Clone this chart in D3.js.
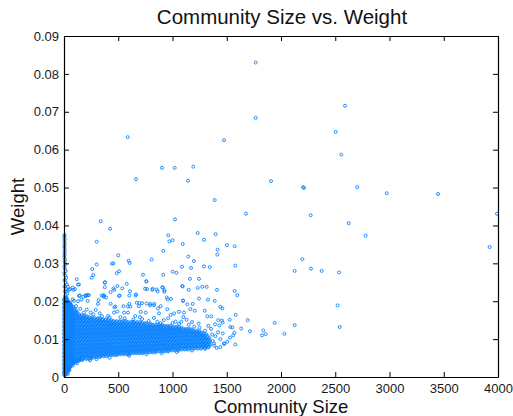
<!DOCTYPE html>
<html><head><meta charset="utf-8">
<script src="https://cdn.jsdelivr.net/npm/d3@7/dist/d3.min.js"></script>
<style>
body{margin:0;background:#fff}
text{font-family:"Liberation Sans",Arial,Helvetica,sans-serif}
</style>
</head><body>
<svg id="chart" width="513" height="416"></svg>
<script>
// ---- data ----
const xTicks = [0, 500, 1000, 1500, 2000, 2500, 3000, 3500, 4000];
const yTicks = [0, 0.01, 0.02, 0.03, 0.04, 0.05, 0.06, 0.07, 0.08, 0.09];
const yTickLabels = ["0", "0.01", "0.02", "0.03", "0.04", "0.05", "0.06", "0.07", "0.08", "0.09"];
const chartTitle = "Community Size vs. Weight";
const xLabel = "Community Size";
const yLabel = "Weight";

// isolated points [community size, weight]
const farPoints = [
  [587,0.0633],[664,0.0522],[903,0.0552],[1020,0.0552],[1192,0.0555],[1143,0.0518],[1389,0.0467],[1475,0.0625],
  [1767,0.0830],[1767,0.0684],[2590,0.0716],[2504,0.0647],[2556,0.0587],[1908,0.0517],[2203,0.0501],[2212,0.0499],
  [2703,0.0501],[2974,0.0485],[3447,0.0483],[2273,0.0427],[2624,0.0406],[2780,0.0373],[3990,0.0431],[3923,0.0343],
  [2197,0.0311],[2126,0.0280],[2276,0.0286],[2375,0.0280],[2535,0.0276],[2522,0.0189],[1942,0.0143],[2126,0.0137],
  [2541,0.0132],[1837,0.0123],[1825,0.0110],[1859,0.0113],[2031,0.0114],[1677,0.0431]
];
const midPoints = [
  [1232,0.0380],[1398,0.0377],[1290,0.0362],[1094,0.0351],[1502,0.0348],[1573,0.0345],[1416,0.0336],[1413,0.0323],
  [1146,0.0318],[1198,0.0306],[1088,0.0291],[1171,0.0288],[1290,0.0292],[1343,0.0290],[1579,0.0294],[1161,0.0259],
  [1244,0.0259],[1094,0.0239],[1149,0.0230],[1232,0.0235],[1275,0.0238],[1315,0.0238],[1410,0.0230],[1573,0.0227],
  [1597,0.0216],[1097,0.0202],[1244,0.0207],[1327,0.0204],[1389,0.0201],[1186,0.0193],[1136,0.0192],[1441,0.0185],
  [1459,0.0181],[1297,0.0175],[1165,0.0179],[1205,0.0175],[1582,0.0164],[1693,0.0150],[1634,0.0128],[1714,0.0121],
  [1579,0.0086],[1475,0.0089],[1527,0.0151],[1551,0.0131],[1560,0.0110],[1422,0.0150],[1456,0.0149],[1392,0.0139],
  [1432,0.0136],[1355,0.0127],[1463,0.0115],[1321,0.0160],[1358,0.0160],[1463,0.0144],[1533,0.0132],[1570,0.0117],
  [1530,0.0104],[1441,0.0100],[1477,0.0087],[1382,0.0089],[1330,0.0078],[1407,0.0077],[1370,0.0095],[1395,0.0108],
  [1420,0.0118],[1365,0.0112],[1300,0.0122],[1385,0.0083],[1440,0.0079],[1505,0.0093]
];
const upperLeftPoints = [
  [1023,0.0416],[961,0.0374],[1001,0.0361],[971,0.0358],[915,0.0333],[338,0.0411],[424,0.0391],[301,0.0357],
  [500,0.0321],[261,0.0285],[270,0.0269],[301,0.0297],[442,0.0299],[455,0.0300],[596,0.0307],[605,0.0301],
  [808,0.0310],[728,0.0270],[759,0.0253],[486,0.0274],[507,0.0279],[378,0.0250],[375,0.0237],[915,0.0270],
  [1001,0.0278],[1036,0.0275],[117,0.0258],[138,0.0244],[55,0.0232],[80,0.0236],[101,0.0232],[255,0.0262],
  [203,0.0214],[221,0.0216],[464,0.0230],[507,0.0214],[347,0.0215],[366,0.0212],[537,0.0234],[608,0.0226],
  [664,0.0218],[817,0.0233],[854,0.0231],[912,0.0236],[925,0.0229],[986,0.0206],[947,0.0210],[747,0.0233],
  [765,0.0232],[694,0.0195],[719,0.0195],[795,0.0193],[832,0.0193],[866,0.0181],[588,0.0186],[612,0.0186],
  [547,0.0187],[464,0.0184],[473,0.0186],[313,0.0193],[319,0.0203],[455,0.0234],[430,0.0224],[362,0.0215],
  [209,0.0216],[228,0.0216],[147,0.0215],[178,0.0212]
];
const speckPoints = [
  [129,0.0244],[375,0.0249],[492,0.0240],[578,0.0246],[759,0.0252],[906,0.0237],[814,0.0230],[1091,0.0240],
  [46,0.0230],[86,0.0230],[138,0.0214],[197,0.0215],[369,0.0215],[387,0.0210],[513,0.0215],[602,0.0215],
  [660,0.0215],[863,0.0226],[925,0.0225],[955,0.0205],[1097,0.0201],[92,0.0201],[129,0.0200],[160,0.0204],
  [52,0.0193],[111,0.0187],[218,0.0201],[430,0.0193],[602,0.0193],[670,0.0196],[691,0.0187],[762,0.0194],
  [793,0.0189],[829,0.0189],[891,0.0187],[952,0.0179],[1060,0.0172],[1106,0.0170],[292,0.0177],[246,0.0170],
  [184,0.0170],[406,0.0161],[461,0.0170],[492,0.0173],[553,0.0170],[590,0.0170],[657,0.0161],[707,0.0172],
  [753,0.0170],[829,0.0156],[876,0.0168],[983,0.0164],[1014,0.0168],[1029,0.0146],[1081,0.0146],[1130,0.0151],
  [350,0.0160],[520,0.0158],[640,0.0152],[720,0.0153],[780,0.0148],[860,0.0146],[920,0.0150],[1000,0.0143],
  [1060,0.0140],[1150,0.0138],[1200,0.0133],[1250,0.0130],[1180,0.0145],[1240,0.0141],[960,0.0155],[700,0.0158],
  [560,0.0155],[420,0.0157],[1100,0.0158],[270,0.0165],[330,0.0168],[150,0.0180],[210,0.0178],[80,0.0205],
  [300,0.0047],[420,0.0051],[600,0.0056],[760,0.0060],[900,0.0063],[1040,0.0066],[1180,0.0070],[1300,0.0074],
  [240,0.0044],[120,0.0036],[80,0.0030],[50,0.0018],[35,0.0008],[1330,0.0135],[890,0.0142],[640,0.0146]
];
// vertical streak of points at the smallest community sizes
const leftColumn = [
  [5,0.0375],[3,0.0370],[6,0.0364],[4,0.0358],[7,0.0352],[3,0.0346],[5,0.0340],[8,0.0334],[4,0.0328],[6,0.0322],
  [3,0.0316],[9,0.0310],[5,0.0304],[12,0.0298],[4,0.0292],[8,0.0286],[15,0.0280],[3,0.0274],[10,0.0268],[20,0.0262],
  [6,0.0256],[14,0.0250],[25,0.0244],[4,0.0238],[18,0.0232],[9,0.0226],[30,0.0220],[13,0.0215],[24,0.0226],[36,0.0238]
];
// the solid band of overlapping points, one row per weight level
const bandRows = [
  [0.0005,[2,10]],
  [0.0010,[4,14,24]],
  [0.0015,[2,12,24,36]],
  [0.0020,[6,18,30,44]],
  [0.0025,[2,14,28,40,52]],
  [0.0030,[8,20,34,48,62]],
  [0.0035,[2,16,30,44,58,72,84]],
  [0.0040,[8,22,36,50,64,80,96,112]],
  [0.0045,[2,16,30,44,58,72,86,100,114,128,142,156,168]],
  [0.0050,[8,22,36,50,64,80,100,128,156,184,212,240,258]],
  [0.0055,[2,16,30,44,58,72,86,114,142,170,198,226,254,282,310,338,366,394]],
  [0.0060,[8,22,36,50,72,100,128,156,184,212,240,268,296,324,352,380,408,436,464,492,520,548,576,598]],
  [0.0065,[2,16,30,44,58,86,114,142,170,198,226,254,282,310,338,366,394,422,450,478,506,534,562,590,618,646,674,702,730,758,786,814,842]],
  [0.0070,[8,22,36,50,72,100,128,156,184,212,240,268,296,324,352,380,408,436,464,492,520,548,576,604,632,660,688,716,744,772,800,828,856,884,912,940,968,996,1024,1052]],
  [0.0075,[2,16,30,44,58,86,114,142,170,198,226,254,282,310,338,366,394,422,450,478,506,534,562,590,618,646,674,702,730,758,786,814,842,870,898,926,954,982,1010,1038,1066,1094,1122,1150,1178,1206,1234,1262]],
  [0.0080,[8,22,36,50,72,100,128,156,184,212,240,268,296,324,352,380,408,436,464,492,520,548,576,604,632,660,688,716,744,772,800,828,856,884,912,940,968,996,1024,1052,1080,1108,1136,1164,1192,1220,1248,1276,1304,1332]],
  [0.0085,[2,16,30,44,58,86,114,142,170,198,226,254,282,310,338,366,394,422,450,478,506,534,562,590,618,646,674,702,730,758,786,814,842,870,898,926,954,982,1010,1038,1066,1094,1122,1150,1178,1206,1234,1262,1290,1318,1346]],
  [0.0090,[8,22,36,50,72,100,128,156,184,212,240,268,296,324,352,380,408,436,464,492,520,548,576,604,632,660,688,716,744,772,800,828,856,884,912,940,968,996,1024,1052,1080,1108,1136,1164,1192,1220,1248,1276,1304,1332]],
  [0.0095,[2,16,30,44,58,86,114,142,170,198,226,254,282,310,338,366,394,422,450,478,506,534,562,590,618,646,674,702,730,758,786,814,842,870,898,926,954,982,1010,1038,1066,1094,1122,1150,1178,1206,1234,1262,1290,1318,1346]],
  [0.0100,[8,22,36,50,72,100,128,156,184,212,240,268,296,324,352,380,408,436,464,492,520,548,576,604,632,660,688,716,744,772,800,828,856,884,912,940,968,996,1024,1052,1080,1108,1136,1164,1192,1220,1248,1276,1304,1332]],
  [0.0105,[2,16,30,44,58,86,114,142,170,198,226,254,282,310,338,366,394,422,450,478,506,534,562,590,618,646,674,702,730,758,786,814,842,870,898,926,954,982,1010,1038,1066,1094,1122,1150,1178,1206,1234,1262,1290,1318]],
  [0.0110,[8,22,36,50,72,100,128,156,184,212,240,268,296,324,352,380,408,436,464,492,520,548,576,604,632,660,688,716,744,772,800,828,856,884,912,940,968,996,1024,1052,1080,1108,1136,1164,1192,1220,1248,1276,1304]],
  [0.0115,[2,16,30,44,58,86,114,142,170,198,226,254,282,310,338,366,394,422,450,478,506,534,562,590,618,646,674,702,730,758,786,814,842,870,898,926,954,982,1010,1038,1066,1094,1122,1150,1178,1206,1234,1262,1290]],
  [0.0120,[8,22,36,50,72,100,128,156,184,212,240,268,296,324,352,380,408,436,464,492,520,548,576,604,632,660,688,716,744,772,800,828,856,884,912,940,968,996,1024,1052,1080,1108,1136,1164,1192,1220,1248]],
  [0.0125,[2,16,30,44,58,86,114,142,170,198,226,254,282,310,338,366,394,422,450,478,506,534,562,590,618,646,674,702,730,758,786,814,842,870,898,926,954,982,1010,1038,1066,1094,1122,1150,1178]],
  [0.0130,[8,22,36,50,72,100,128,156,184,212,240,268,296,324,352,380,408,436,464,492,520,548,576,604,632,660,688,716,744,772,800,828,856,884,912,940,968,996,1024,1052,1080]],
  [0.0135,[2,16,30,44,58,86,114,142,170,198,226,254,282,310,338,366,394,422,450,478,506,534,562,590,618,646,674,702,730,758,786,814,842,870,898,926,954,982]],
  [0.0140,[8,22,36,50,72,100,128,156,184,212,240,268,296,324,352,380,408,436,464,492,520,548,576,604,632,660,688,716,744,772,800]],
  [0.0145,[2,16,30,44,58,86,114,142,170,198,226,254,282,310,338,366,394,422,450,478,506,534,562,590,618,646,674,702]],
  [0.0150,[8,22,36,50,72,100,128,156,184,212,240,268,296,324,352,380,408,436]],
  [0.0155,[2,16,30,44,58,86,114,142,170,198,226,254,282,310,330]],
  [0.0160,[8,22,36,50,72,100,128,156,184,212]],
  [0.0165,[2,16,30,44,58,86,114,142]],
  [0.0170,[8,22,36,50,72,100,122]],
  [0.0175,[2,16,30,44,58,86,112]],
  [0.0180,[8,22,36,50,72,98]],
  [0.0185,[2,16,30,44,58,84]],
  [0.0190,[8,22,36,50,68]],
  [0.0195,[2,16,30,44,58]],
  [0.0200,[8,22,36]],
  [0.0205,[2,16,28]],
  [0.0210,[8,22]]
];
// further overlapping points lying between the rows above
const bandRowsMid = [
  [0.00075,[6,16]],
  [0.00125,[2,11,21,30]],
  [0.00175,[7,19,31,42]],
  [0.00225,[2,12,24,36,48]],
  [0.00275,[8,21,34,46,57]],
  [0.00325,[2,14,27,41,55,64]],
  [0.00375,[9,23,37,51,65,79,95]],
  [0.00425,[2,15,29,43,57,72,88,104,120,135]],
  [0.00475,[9,23,37,51,65,79,93,121,149,177,205,233]],
  [0.00525,[2,15,29,43,57,72,88,107,135,163,191,219,247,275,303,331]],
  [0.00575,[9,23,37,51,65,79,93,121,149,177,205,233,261,289,317,345,373,401,429,457,485]],
  [0.00625,[2,15,29,43,57,79,107,135,163,191,219,247,275,303,331,359,387,415,443,471,499,527,555,583,611,639,667,695,723]],
  [0.00675,[9,23,37,51,65,79,93,121,149,177,205,233,261,289,317,345,373,401,429,457,485,513,541,569,597,625,653,681,709,737,765,793,821,849,877,905,933,961]],
  [0.00725,[2,15,29,43,57,79,107,135,163,191,219,247,275,303,331,359,387,415,443,471,499,527,555,583,611,639,667,695,723,751,779,807,835,863,891,919,947,975,1003,1031,1059,1087,1115,1143]],
  [0.00775,[9,23,37,51,65,79,93,121,149,177,205,233,261,289,317,345,373,401,429,457,485,513,541,569,597,625,653,681,709,737,765,793,821,849,877,905,933,961,989,1017,1045,1073,1101,1129,1157,1185,1213,1241,1269,1297]],
  [0.00825,[2,15,29,43,57,79,107,135,163,191,219,247,275,303,331,359,387,415,443,471,499,527,555,583,611,639,667,695,723,751,779,807,835,863,891,919,947,975,1003,1031,1059,1087,1115,1143,1171,1199,1227,1255,1283,1311,1339]],
  [0.00875,[9,23,37,51,65,79,93,121,149,177,205,233,261,289,317,345,373,401,429,457,485,513,541,569,597,625,653,681,709,737,765,793,821,849,877,905,933,961,989,1017,1045,1073,1101,1129,1157,1185,1213,1241,1269,1297,1325]],
  [0.00925,[2,15,29,43,57,79,107,135,163,191,219,247,275,303,331,359,387,415,443,471,499,527,555,583,611,639,667,695,723,751,779,807,835,863,891,919,947,975,1003,1031,1059,1087,1115,1143,1171,1199,1227,1255,1283,1311,1339]],
  [0.00975,[9,23,37,51,65,79,93,121,149,177,205,233,261,289,317,345,373,401,429,457,485,513,541,569,597,625,653,681,709,737,765,793,821,849,877,905,933,961,989,1017,1045,1073,1101,1129,1157,1185,1213,1241,1269,1297,1325]],
  [0.01025,[2,15,29,43,57,79,107,135,163,191,219,247,275,303,331,359,387,415,443,471,499,527,555,583,611,639,667,695,723,751,779,807,835,863,891,919,947,975,1003,1031,1059,1087,1115,1143,1171,1199,1227,1255,1283,1311,1339]],
  [0.01075,[9,23,37,51,65,79,93,121,149,177,205,233,261,289,317,345,373,401,429,457,485,513,541,569,597,625,653,681,709,737,765,793,821,849,877,905,933,961,989,1017,1045,1073,1101,1129,1157,1185,1213,1241,1269,1297,1325]],
  [0.01125,[2,15,29,43,57,79,107,135,163,191,219,247,275,303,331,359,387,415,443,471,499,527,555,583,611,639,667,695,723,751,779,807,835,863,891,919,947,975,1003,1031,1059,1087,1115,1143,1171,1199,1227,1255,1283,1311]],
  [0.01175,[9,23,37,51,65,79,93,121,149,177,205,233,261,289,317,345,373,401,429,457,485,513,541,569,597,625,653,681,709,737,765,793,821,849,877,905,933,961,989,1017,1045,1073,1101,1129,1157,1185,1213,1241,1269]],
  [0.01225,[2,15,29,43,57,79,107,135,163,191,219,247,275,303,331,359,387,415,443,471,499,527,555,583,611,639,667,695,723,751,779,807,835,863,891,919,947,975,1003,1031,1059,1087,1115,1143,1171,1199,1227]],
  [0.01275,[9,23,37,51,65,79,93,121,149,177,205,233,261,289,317,345,373,401,429,457,485,513,541,569,597,625,653,681,709,737,765,793,821,849,877,905,933,961,989,1017,1045,1073,1101,1129,1157]],
  [0.01325,[2,15,29,43,57,79,107,135,163,191,219,247,275,303,331,359,387,415,443,471,499,527,555,583,611,639,667,695,723,751,779,807,835,863,891,919,947,975,1003,1031,1059]],
  [0.01375,[9,23,37,51,65,79,93,121,149,177,205,233,261,289,317,345,373,401,429,457,485,513,541,569,597,625,653,681,709,737,765,793,821,849,877,905]],
  [0.01425,[2,15,29,43,57,79,107,135,163,191,219,247,275,303,331,359,387,415,443,471,499,527,555,583,611,639,667,695,723,751]],
  [0.01475,[9,23,37,51,65,79,93,121,149,177,205,233,261,289,317,345,373,401,429,457,485,513,541,569]],
  [0.01525,[2,15,29,43,57,79,107,135,163,191,219,247,275,303,331,359,387]],
  [0.01575,[9,23,37,51,65,79,93,121,149,177,205,233,261]],
  [0.01625,[2,15,29,43,57,79,107,135,163,191]],
  [0.01675,[9,23,37,51,65,79,93,121]],
  [0.01725,[2,15,29,43,57,79,107]],
  [0.01775,[9,23,37,51,65,93]],
  [0.01825,[2,15,29,43,57,79]],
  [0.01875,[9,23,37,51,65]],
  [0.01925,[2,15,29,43,57]],
  [0.01975,[9,23,37,49]],
  [0.02025,[2,15,28]],
  [0.02075,[9,20]]
];

// ---- drawing ----
const W = 513, H = 416;
const plotLeft = 64, plotRight = 498, plotTop = 36, plotBottom = 377;
const svg = d3.select("#chart");
const x = d3.scaleLinear().domain([0, 4000]).range([plotLeft, plotRight]);
const y = d3.scaleLinear().domain([0, 0.09]).range([plotBottom, plotTop]);
const markerColor = "#0a82ff";

const toPoints = rows => rows.flatMap(([w, sizes]) => sizes.map(s => [s, w]));
const allPoints = toPoints(bandRows).concat(toPoints(bandRowsMid), leftColumn, speckPoints, upperLeftPoints, midPoints, farPoints);

svg.append("rect").attr("x",0).attr("y",0).attr("width",W).attr("height",H).attr("fill","#fff");

svg.append("g").selectAll("circle").data(allPoints).join("circle")
  .attr("cx", d => x(d[0])).attr("cy", d => y(d[1]))
  .attr("r", 1.5).attr("fill", "none")
  .attr("stroke", markerColor).attr("stroke-width", 0.9);

function styleAxis(g, showText) {
  g.selectAll(".domain").attr("stroke", "#000").attr("stroke-width", 1.2);
  g.selectAll(".tick line").attr("stroke", "#000").attr("stroke-width", 1);
  g.selectAll(".tick text").attr("fill", "#1a1a1a").style("font-size", "13px")
    .style("font-family", '"Liberation Sans", Arial, sans-serif');
  if (!showText) g.selectAll(".tick text").remove();
}

svg.append("g").attr("transform", `translate(0,${plotBottom})`)
  .call(d3.axisBottom(x).tickValues(xTicks).tickFormat(d3.format("d")).tickSizeInner(-5).tickSizeOuter(0).tickPadding(7))
  .call(g => styleAxis(g, true));
svg.append("g").attr("transform", `translate(0,${plotTop})`)
  .call(d3.axisTop(x).tickValues(xTicks).tickSizeInner(-5).tickSizeOuter(0))
  .call(g => styleAxis(g, false));
svg.append("g").attr("transform", `translate(${plotLeft},0)`)
  .call(d3.axisLeft(y).tickValues(yTicks).tickFormat((d, i) => yTickLabels[i]).tickSizeInner(-5).tickSizeOuter(0).tickPadding(5))
  .call(g => styleAxis(g, true));
svg.append("g").attr("transform", `translate(${plotRight},0)`)
  .call(d3.axisRight(y).tickValues(yTicks).tickSizeInner(-5).tickSizeOuter(0))
  .call(g => styleAxis(g, false));

svg.append("text").attr("x", 282).attr("y", 23.5).attr("text-anchor", "middle")
  .style("font-size", "20.5px").attr("fill", "#111").text(chartTitle);
svg.append("text").attr("x", 281).attr("y", 413).attr("text-anchor", "middle")
  .style("font-size", "18.5px").attr("fill", "#111").text(xLabel);
svg.append("text").attr("transform", `translate(24,${(plotTop + plotBottom) / 2}) rotate(-90)`)
  .attr("text-anchor", "middle").style("font-size", "18.5px").attr("fill", "#111").text(yLabel);
</script>
</body></html>
